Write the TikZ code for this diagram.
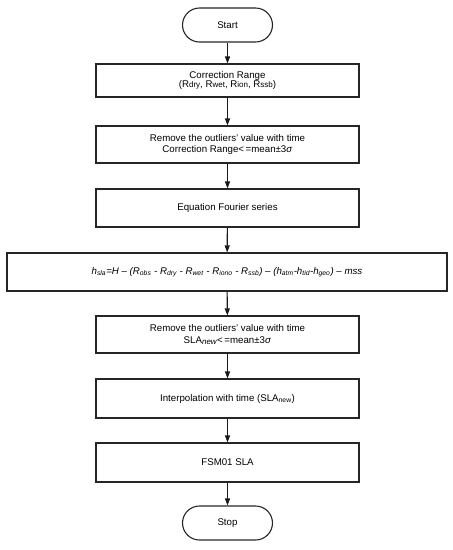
\documentclass[tikz,border=0pt]{standalone}
\usepackage{fontspec}
\setmainfont{Liberation Sans}
\usetikzlibrary{arrows.meta}
\newcommand{\lowsub}[1]{\raisebox{-0.8pt}{\fontsize{8}{9}\selectfont #1}}
\tikzset{
  every picture/.style={font=\fontsize{9.7}{11.6}\selectfont, line width=1.1pt},
  procbox/.style={draw=black!85, align=center, inner sep=2pt, minimum width=263pt, minimum height=#1},
  procbox/.default=38pt,
  termbox/.style={draw=black!85, rounded corners=17pt, minimum width=90pt, minimum height=34pt},
  arrow/.style={-{Triangle[length=7pt, width=5pt]}, draw=black!90, line width=1.1pt},
}
\begin{document}
\begin{tikzpicture}[x=1pt, y=-1pt]
  \useasboundingbox (0,0) rectangle (453,550);
  \node[termbox] (start) at (227.5,25) {Start};
  \node[procbox=33pt] (corr) at (227.5,80.5) {Correction Range\\[-3pt]
    (R\lowsub{dry}, R\lowsub{wet}, R\lowsub{ion}, R\lowsub{ssb})};
  \node[procbox=37pt] (outl1) at (227.5,144.5) {Remove the outliers' value with time\\Correction Range{<}\,=mean±3\textit{σ}};
  \node[procbox] (fourier) at (227.5,208) {Equation Fourier series};
  \node[procbox, minimum width=440pt] (hsla) at (227,272) {\textit{h\textsubscript{sla}=H – (R\textsubscript{obs} - R\textsubscript{dry} - R\textsubscript{wet} - R\textsubscript{iono} - R\textsubscript{ssb}) – (h\textsubscript{atm}-h\textsubscript{tid}-h\textsubscript{geo}) – mss}};
  \node[procbox=37pt] (outl2) at (227.5,334.5) {Remove the outliers' value with time\\SLA\lowsub{\textit{new}}{<}\,=mean±3\textit{σ}};
  \node[procbox=39pt] (interp) at (227.5,398.5) {Interpolation with time (SLA\textsubscript{new})};
  \node[procbox=39pt] (fsm) at (227.5,462.5) {FSM01 SLA};
  \node[termbox] (stop) at (227.5,523) {Stop};
  % connectors
  \foreach \a/\b in {start/corr, corr/outl1, outl1/fourier, fourier/hsla, hsla/outl2, outl2/interp, interp/fsm, fsm/stop}
    \draw[arrow] (\a) -- (\b);
\end{tikzpicture}
\end{document}
